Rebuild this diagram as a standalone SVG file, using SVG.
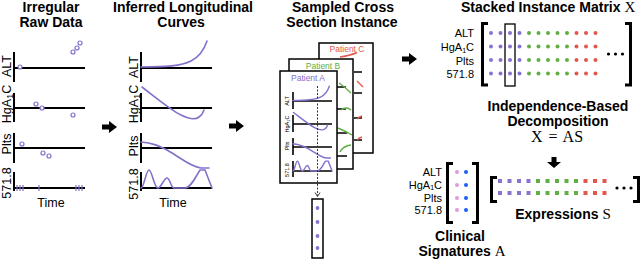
<svg xmlns="http://www.w3.org/2000/svg" width="640" height="262" viewBox="0 0 640 262">
<style>
text{font-family:"Liberation Sans",Arial,sans-serif;fill:#000}
.t{font-size:14px;font-weight:bold;text-anchor:middle}
.ax{stroke:#000;stroke-width:2;fill:none}
.lb{font-size:12.5px;text-anchor:middle}
.cv{stroke:#8570CC;stroke-width:1.6;fill:none;stroke-linecap:round;stroke-linejoin:round}
.mcv{stroke:#8570CC;stroke-width:2.6;fill:none;stroke-linecap:round;stroke-linejoin:round}
.pt{fill:#fff;stroke:#8570CC;stroke-width:1.2}
.card{fill:#fff;stroke:#000;stroke-width:1.5}
.max{stroke:#000;stroke-width:1.6;fill:none}
.ml{font-size:5.5px;text-anchor:middle}
.rl{font-size:11px;text-anchor:end}
.br{stroke:#000;stroke-width:3;fill:none}
.pu{fill:#8A72CF}.gr{fill:#5FAF45}.rd{fill:#E2574C}.pk{fill:#DE9BDD}.bl{fill:#1F5EF5}
.gs{stroke:#5FAF45;stroke-width:1.4;fill:none}
.rs{stroke:#E2574C;stroke-width:1.4;fill:none}
.arr{fill:#000}
.m{font-family:"Liberation Serif","Times New Roman",serif;font-weight:normal}
</style>
<defs>
<path id="cALT" d="M0,-1 C25,-1 40,-2 50,-7 C58,-11 63,-18 66,-27"/>
<path id="cHGA" d="M1,-21 C18,-8 30,2 40,7 C48,11 54,12 58,9 C61,7 62,5 63,2"/>
<path id="cPLT" d="M0,-6 C12,-5 18,-2 26,2 C40,10 50,19 60,20 L68,20"/>
<path id="c571" d="M0,0 C3,0 5,-18 8,-18 C11,-18 13,0 17,0 C20,0 23,-10 26,-10 C29,-10 30,0 33,0 L44,0 C50,0 55,-12 59,-18 L64,-18 L71,0"/>
</defs>

<g id="raw-data">
<text class="t" x="51" y="12">Irregular</text>
<text class="t" x="51" y="27">Raw Data</text>
<path class="ax" d="M14,52V82M14,68H85M14,93V122M14,108H85M14,133V163M14,148H85M14,172V191M14,188H85"/>
<text class="lb" transform="translate(11,66) rotate(-90)">ALT</text>
<text class="lb" transform="translate(11,104) rotate(-90)">HgA<tspan font-size="9" dy="2">1</tspan><tspan dy="-2">C</tspan></text>
<text class="lb" transform="translate(11,144) rotate(-90)">Plts</text>
<text class="lb" transform="translate(11,183) rotate(-90)">571.8</text>
<text class="lb" x="51" y="207" font-size="13">Time</text>
<circle class="pt" cx="20" cy="67" r="2"/>
<circle class="pt" cx="73" cy="52" r="2"/>
<circle class="pt" cx="77" cy="48" r="2"/>
<circle class="pt" cx="80" cy="43" r="2"/>
<circle class="pt" cx="36" cy="104" r="2"/>
<circle class="pt" cx="42" cy="108" r="2"/>
<circle class="pt" cx="73" cy="115" r="2"/>
<circle class="pt" cx="22" cy="144" r="2"/>
<circle class="pt" cx="43" cy="153" r="2"/>
<circle class="pt" cx="49" cy="156" r="2"/>
<path stroke="#8570CC" stroke-width="1.2" d="M17,185V191M20,185V191M23,185V191M39,185V191M76,185V191M79,185V191M82,185V191"/>
</g>

<g id="inferred-curves">
<text class="t" x="183" y="12">Inferred Longitudinal</text>
<text class="t" x="181" y="27">Curves</text>
<path class="ax" d="M141,52V82M141,68H212M141,93V122M141,108H212M141,133V163M141,148H212M141,172V191M141,188H212"/>
<text class="lb" transform="translate(138,67) rotate(-90)">ALT</text>
<text class="lb" transform="translate(138,104) rotate(-90)">HgA<tspan font-size="9" dy="2">1</tspan><tspan dy="-2">C</tspan></text>
<text class="lb" transform="translate(138,146) rotate(-90)">Plts</text>
<text class="lb" transform="translate(138,184) rotate(-90)">571.8</text>
<text class="lb" x="173" y="207" font-size="13">Time</text>
<use href="#cALT" class="cv" transform="translate(141,68)"/>
<use href="#cHGA" class="cv" transform="translate(141,108)"/>
<use href="#cPLT" class="cv" transform="translate(141,148)"/>
<use href="#c571" class="cv" transform="translate(141,188)"/>
</g>

<g id="cross-section">
<text class="t" x="343" y="12">Sampled Cross</text>
<text class="t" x="342" y="27">Section Instance</text>
<g id="patient-c">
<rect class="card" x="319" y="43" width="54" height="110"/>
<text x="347" y="52" font-size="8.5" text-anchor="middle" style="fill:#E2574C">Patient C</text>
<path class="max" d="M354,72H362M354,93H362M354,118H362M354,140H362"/>
<path class="rs" d="M340,57C347,56 352,55 357,52.5M357,81L363,87M357,119Q359,117 362,116M357,140Q359,138 362,137"/>
</g>
<g id="patient-b">
<rect class="card" x="289" y="59" width="64" height="110"/>
<text x="323" y="68.5" font-size="8.5" text-anchor="middle" style="fill:#5FAF45">Patient B</text>
<path class="max" d="M337,87H346M337,109H346M337,133H347M337,156H347"/>
<path class="gs" d="M339,83Q345,87 351,93M341,110Q346,106 351,110M338,128Q345,131 352,135M340,152Q343,146 351,145"/>
</g>
<g id="patient-a">
<rect class="card" x="280" y="71" width="57" height="112"/>
<text x="308" y="81" font-size="8.5" text-anchor="middle" style="fill:#8570CC">Patient A</text>
<path class="max" d="M293,92V109M293,101H332M293,115V132M293,124H332M293,138V155M293,147H332M293,161V177M293,171H332"/>
<text class="ml" transform="translate(289,101) rotate(-90)">ALT</text>
<text class="ml" transform="translate(289,124) rotate(-90)">HgA<tspan font-size="4" dy="1">1</tspan><tspan dy="-1">C</tspan></text>
<text class="ml" transform="translate(289,146) rotate(-90)">Plts</text>
<text class="ml" transform="translate(289,170) rotate(-90)">571.8</text>
<use href="#cALT" class="mcv" transform="translate(293,101) scale(0.55)"/>
<use href="#cHGA" class="mcv" transform="translate(293,124) scale(0.55)"/>
<use href="#cPLT" class="mcv" transform="translate(293,147) scale(0.55)"/>
<use href="#c571" class="mcv" transform="translate(293,171) scale(0.55)"/>
</g>
<g id="instance-vector">
<rect class="card" x="312" y="199" width="11" height="59"/>
<circle class="pu" cx="317.5" cy="208" r="1.9"/>
<circle class="pu" cx="317.5" cy="222" r="1.9"/>
<circle class="pu" cx="317.5" cy="236" r="1.9"/>
<circle class="pu" cx="317.5" cy="248" r="1.9"/>
</g>
</g>

<g id="matrix-x">
<text x="461" y="12" font-size="14" font-weight="bold">Stacked Instance Matrix <tspan class="m" font-size="15">X</tspan></text>
<text class="rl" x="474" y="37">ALT</text>
<text class="rl" x="474" y="51">HgA<tspan font-size="7" dy="1.5">1</tspan><tspan dy="-1.5">C</tspan></text>
<text class="rl" x="474" y="64.5">Plts</text>
<text class="rl" x="474" y="78">571.8</text>
<path class="br" d="M488,23.5H482.5V85H488M625,23.5H630.5V85H625"/>
<g id="xdots">
<g class="pu">
<circle cx="491" cy="33" r="2"/><circle cx="500.5" cy="33" r="2"/><circle cx="510" cy="33" r="2"/><circle cx="519.5" cy="33" r="2"/>
<circle cx="491" cy="46.5" r="2"/><circle cx="500.5" cy="46.5" r="2"/><circle cx="510" cy="46.5" r="2"/><circle cx="519.5" cy="46.5" r="2"/>
<circle cx="491" cy="60" r="2"/><circle cx="500.5" cy="60" r="2"/><circle cx="510" cy="60" r="2"/><circle cx="519.5" cy="60" r="2"/>
<circle cx="491" cy="73.5" r="2"/><circle cx="500.5" cy="73.5" r="2"/><circle cx="510" cy="73.5" r="2"/><circle cx="519.5" cy="73.5" r="2"/>
</g>
<g class="gr">
<circle cx="529" cy="33" r="2"/><circle cx="538.5" cy="33" r="2"/><circle cx="548" cy="33" r="2"/><circle cx="557.5" cy="33" r="2"/><circle cx="567" cy="33" r="2"/>
<circle cx="529" cy="46.5" r="2"/><circle cx="538.5" cy="46.5" r="2"/><circle cx="548" cy="46.5" r="2"/><circle cx="557.5" cy="46.5" r="2"/><circle cx="567" cy="46.5" r="2"/>
<circle cx="529" cy="60" r="2"/><circle cx="538.5" cy="60" r="2"/><circle cx="548" cy="60" r="2"/><circle cx="557.5" cy="60" r="2"/><circle cx="567" cy="60" r="2"/>
<circle cx="529" cy="73.5" r="2"/><circle cx="538.5" cy="73.5" r="2"/><circle cx="548" cy="73.5" r="2"/><circle cx="557.5" cy="73.5" r="2"/><circle cx="567" cy="73.5" r="2"/>
</g>
<g class="rd">
<circle cx="576.5" cy="33" r="2"/><circle cx="586" cy="33" r="2"/><circle cx="595.5" cy="33" r="2"/>
<circle cx="576.5" cy="46.5" r="2"/><circle cx="586" cy="46.5" r="2"/><circle cx="595.5" cy="46.5" r="2"/>
<circle cx="576.5" cy="60" r="2"/><circle cx="586" cy="60" r="2"/><circle cx="595.5" cy="60" r="2"/>
<circle cx="576.5" cy="73.5" r="2"/><circle cx="586" cy="73.5" r="2"/><circle cx="595.5" cy="73.5" r="2"/>
</g>
</g>
<rect x="505" y="24" width="10" height="62" fill="none" stroke="#000" stroke-width="1.3"/>
<circle cx="608.5" cy="54" r="1.6"/><circle cx="615.5" cy="54" r="1.6"/><circle cx="622.5" cy="54" r="1.6"/>
</g>

<g id="decomposition">
<text class="t" x="558" y="111">Independence-Based</text>
<text class="t" x="558" y="126">Decomposition</text>
<text class="m" x="557" y="142" font-size="16" text-anchor="middle" font-weight="bold" word-spacing="2">X = AS</text>
</g>

<g id="matrix-a">
<text class="rl" x="442" y="176">ALT</text>
<text class="rl" x="442" y="188.5">HgA<tspan font-size="7" dy="1.5">1</tspan><tspan dy="-1.5">C</tspan></text>
<text class="rl" x="442" y="202">Plts</text>
<text class="rl" x="442" y="214">571.8</text>
<path class="br" d="M453,163.5H447.5V222.5H453M472,163.5H477.5V222.5H472"/>
<circle class="pk" cx="457" cy="172" r="2"/><circle class="bl" cx="466" cy="172" r="2"/>
<circle class="pk" cx="457" cy="185" r="2"/><circle class="bl" cx="466" cy="185" r="2"/>
<circle class="pk" cx="457" cy="198" r="2"/><circle class="bl" cx="466" cy="198" r="2"/>
<circle class="pk" cx="457" cy="210" r="2"/><circle class="bl" cx="466" cy="210" r="2"/>
<text class="t" x="460" y="241">Clinical</text>
<text class="t" x="462" y="256">Signatures <tspan class="m" font-size="15">A</tspan></text>
</g>

<g id="matrix-s">
<path class="br" d="M497,177.5H491.5V201.5H497M633,177.5H638.5V201.5H633"/>
<g class="pu">
<rect x="498" y="179" width="4" height="4"/><rect x="507.5" y="179" width="4" height="4"/><rect x="517" y="179" width="4" height="4"/><rect x="526.5" y="179" width="4" height="4"/>
<rect x="498" y="191" width="4" height="4"/><rect x="507.5" y="191" width="4" height="4"/><rect x="517" y="191" width="4" height="4"/><rect x="526.5" y="191" width="4" height="4"/>
</g>
<g class="gr">
<rect x="536" y="179" width="4" height="4"/><rect x="545.5" y="179" width="4" height="4"/><rect x="555" y="179" width="4" height="4"/><rect x="564.5" y="179" width="4" height="4"/><rect x="574" y="179" width="4" height="4"/>
<rect x="536" y="191" width="4" height="4"/><rect x="545.5" y="191" width="4" height="4"/><rect x="555" y="191" width="4" height="4"/><rect x="564.5" y="191" width="4" height="4"/><rect x="574" y="191" width="4" height="4"/>
</g>
<g class="rd">
<rect x="583.5" y="179" width="4" height="4"/><rect x="593" y="179" width="4" height="4"/><rect x="602.5" y="179" width="4" height="4"/>
<rect x="583.5" y="191" width="4" height="4"/><rect x="593" y="191" width="4" height="4"/><rect x="602.5" y="191" width="4" height="4"/>
</g>
<circle cx="617" cy="188" r="1.6"/><circle cx="624" cy="188" r="1.6"/><circle cx="631" cy="188" r="1.6"/>
<text class="t" x="563" y="219">Expressions <tspan class="m" font-size="15">S</tspan></text>
</g>

<g id="connectors">
<path class="arr" transform="translate(102,127)" d="M0,-2.5H7V-6L15,0L7,6V2.5H0Z"/>
<path class="arr" transform="translate(229,126)" d="M0,-2.5H7V-6L15,0L7,6V2.5H0Z"/>
<path class="arr" transform="translate(402,59)" d="M0,-2.5H7V-6L15,0L7,6V2.5H0Z"/>
<path class="arr" transform="translate(554,157)" d="M-2.5,0V5H-7L0,11L7,5H2.5V0Z"/>
<path d="M317.5,86V196" stroke="#333" stroke-width="1" stroke-dasharray="2,1.5" fill="none"/>
<path d="M315,192.5L317.5,196.5L320,192.5" stroke="#333" stroke-width="1" fill="none"/>
</g>
</svg>
